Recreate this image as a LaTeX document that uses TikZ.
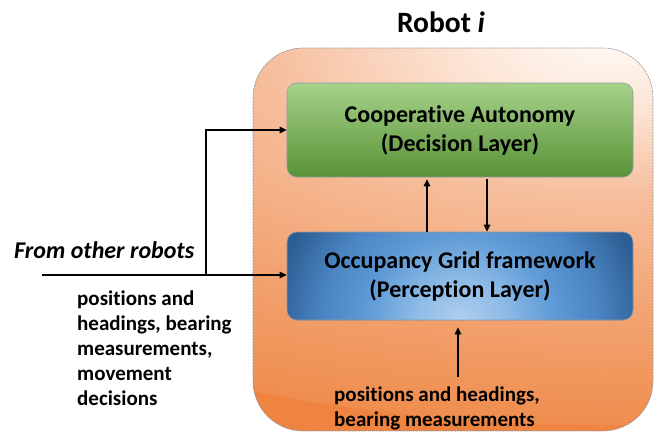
\documentclass[tikz,border=0pt]{standalone}
\usepackage{fontspec}
\setmainfont{Carlito}[Ligatures={NoCommon}]
\usetikzlibrary{arrows.meta}

\definecolor{glowA}{HTML}{FFF8F3}
\definecolor{glowB}{HTML}{FDE8DA}
\definecolor{glowC}{HTML}{F6BE9C}
\definecolor{glowD}{HTML}{F3A676}
\definecolor{glowE}{HTML}{EF8E4F}
\definecolor{glowF}{HTML}{EE8440}
\definecolor{greenTop}{HTML}{A6D28A}
\definecolor{greenBot}{HTML}{589236}
\definecolor{blueA}{HTML}{B0D0EE}
\definecolor{blueB}{HTML}{8DBAE6}
\definecolor{blueC}{HTML}{5F9BD6}
\definecolor{blueD}{HTML}{4A84C2}
\definecolor{blueE}{HTML}{2E5F94}
\definecolor{blueF}{HTML}{2A5889}
\definecolor{edgeGray}{HTML}{8E9AA6}

% warm glow of the robot frame, brightest near the top right
% (25bp corresponds to the rim of the shaded ellipse)
\pgfdeclareradialshading{robotglow}{\pgfpoint{0bp}{0bp}}{color(0bp)=(glowA); color(3.75bp)=(glowB); color(10bp)=(glowC); color(16.75bp)=(glowD); color(24.75bp)=(glowE); color(27.5bp)=(glowF); color(50bp)=(glowF)}
% light spot at the lower middle of the perception layer
\pgfdeclareradialshading{percglow}{\pgfpoint{0bp}{0bp}}{color(0bp)=(blueA); color(6.25bp)=(blueB); color(12.5bp)=(blueC); color(18.75bp)=(blueD); color(25bp)=(blueE); color(50bp)=(blueF)}

\tikzset{
  layer/.style={draw=edgeGray, line width=0.6pt, rounded corners=10pt,
    minimum width=346pt, inner sep=0pt, align=center,
    font=\fontsize{24}{29}\selectfont\bfseries},
  arr/.style={line width=1.6pt, -{Triangle[length=7pt,width=6.5pt]}},
  note/.style={inner sep=0pt, align=left,
    font=\fontsize{21}{25}\selectfont\bfseries},
}

\begin{document}
\begin{tikzpicture}[x=1pt,y=-1pt]
\useasboundingbox (0,0) rectangle (654,432);
\clip (0,0) rectangle (654,432);

% robot frame
\begin{scope}
  \clip[rounded corners=50pt] (253,48) rectangle (653,431);
  \fill[glowF] (253,48) rectangle (653,431);
  \shade[shading=robotglow] (605,45) ellipse [x radius=850pt, y radius=380pt];
\end{scope}
\draw[edgeGray, line width=0.6pt, dash pattern=on 2pt off 1pt, rounded corners=50pt]
  (253,48) rectangle (653,431);

\node[font=\fontsize{29.5}{32}\selectfont\bfseries] (title) at (441,22) {Robot \textit{i}};

% the two layers
\node[layer, minimum height=94pt, top color=greenTop, bottom color=greenBot]
  (ca) at (460,130) {Cooperative Autonomy\\(Decision Layer)};
\node[layer, minimum height=88pt, fill=blueE,
  path picture={\shade[shading=percglow] ([yshift=-2pt]path picture bounding box.south)
     ellipse [x radius=185pt, y radius=175pt];}]
  (og) at (460,276) {Occupancy Grid framework\\(Perception Layer)};

% messages from the other robots
\node[anchor=west, inner sep=0pt, font=\fontsize{24}{28}\selectfont\bfseries\itshape]
  (from) at (14,250) {From other robots};
\coordinate (in) at (42,275);
\coordinate (split) at (206,275);
\draw[arr] (in) -- (og.west |- in);
\draw[arr] (split) |- (ca.west);
\node[note, anchor=north west] (msg) at (77,291)
  {positions and\\headings, bearing\\measurements,\\movement\\decisions};

% exchange between the layers
\draw[arr, shorten >=2pt] ([xshift=-33pt]og.north) -- ([xshift=-33pt]ca.south);
\draw[arr, shorten <=2pt] ([xshift=27pt]ca.south) -- ([xshift=27pt]og.north);

% own sensing
\coordinate (sense) at (458,377);
\draw[arr, shorten >=7pt] (sense) -- (sense |- og.south);
\node[note, anchor=north west] (own) at (334,387)
  {positions and headings,\\bearing measurements};
\end{tikzpicture}
\end{document}
